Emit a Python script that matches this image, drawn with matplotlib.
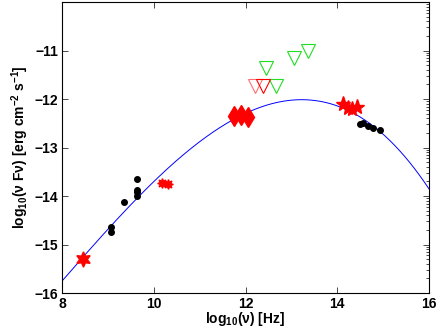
import numpy as np
import matplotlib
matplotlib.use('Agg')
import matplotlib.pyplot as plt
from matplotlib.ticker import FixedLocator

plt.rcParams['font.family'] = 'Liberation Sans'
plt.rcParams['font.weight'] = 'bold'
plt.rcParams['mathtext.fontset'] = 'custom'
plt.rcParams['mathtext.rm'] = 'Liberation Sans:bold'
plt.rcParams['mathtext.it'] = 'Liberation Sans:bold'
plt.rcParams['mathtext.bf'] = 'Liberation Sans:bold'
plt.rcParams['mathtext.default'] = 'bf'

# radio (black dots)
radio_x = [9.07, 9.07, 9.36, 9.63, 9.63, 9.63, 9.63]
radio_y = [-14.64, -14.74, -14.13, -13.65, -13.88, -13.92, -14.0]
# low frequency star
lowstar_x = [8.45]
lowstar_y = [-15.3]
# mm points
mm_x = [10.19, 10.31]
mm_y = [-13.74, -13.75]
# IR diamonds
ir_x = [11.75, 11.9, 12.05]
ir_y = [-12.36, -12.32, -12.37]
# optical/UV stars
opt_x = [14.13, 14.24, 14.33, 14.44]
opt_y = [-12.11, -12.19, -12.21, -12.17]
# X-ray black dots
xr_x = [14.49, 14.56, 14.66, 14.78, 14.93]
xr_y = [-12.52, -12.50, -12.56, -12.60, -12.63]
# upper limits
ul_green_x = [13.37, 13.05, 12.44, 12.66]
ul_green_y = [-11.01, -11.16, -11.37, -11.73]
ul_red_x = [12.2, 12.39]
ul_red_y = [-11.73, -11.73]

# model curve
curve_x = [8.0, 9.05, 9.81, 10.13, 10.53, 10.86, 11.59, 12.31, 12.53, 13.19,
           13.77, 14.27, 14.71, 15.0, 15.36, 15.73, 15.98]
curve_y = [-15.76, -14.62, -13.86, -13.6, -13.24, -13.04, -12.45, -12.18, -12.11, -12.0,
           -12.09, -12.28, -12.49, -12.69, -13.1, -13.48, -13.83]

fig = plt.figure(figsize=(4.38, 3.29), dpi=100)
ax = fig.add_axes([0.1416, 0.1094, 0.8379, 0.8845])

# cubic fit through the read curve points
coef = np.polyfit(curve_x, curve_y, 3)
xx = np.linspace(8, 16, 300)
ax.plot(xx, np.polyval(coef, xx), color='blue', lw=0.7)

ax.plot(radio_x, radio_y, 'o', color='k', ms=4)
ax.plot(xr_x, xr_y, 'o', color='k', ms=4)
ax.plot(lowstar_x, lowstar_y, marker=(6, 1, 0), ls='none', color='red', ms=11)
ax.plot(mm_x, mm_y, marker=(8, 1, 0), ls='none', color='red', ms=7)
ax.plot(ir_x, ir_y, 'd', color='red', ms=10)
ax.plot(opt_x, opt_y, '*', color='red', ms=11)
ax.plot(ul_green_x, ul_green_y, 'v', mfc='none', mec='#22dd22', ms=10, mew=0.8)
ax.plot(ul_red_x[:1], ul_red_y[:1], 'v', mfc='none', mec='#ff7070', ms=10, mew=0.8)
ax.plot(ul_red_x[1:], ul_red_y[1:], 'v', mfc='none', mec='red', ms=10, mew=0.8)

ax.set_xlim(8, 16)
ax.set_ylim(-16, -10)
ax.set_xticks([8, 10, 12, 14, 16])
ax.set_xticklabels(['8', '10', '12', '14', '16'], fontweight='bold')
ax.set_yticks([-16, -15, -14, -13, -12, -11])
ax.set_yticklabels(['\u221216', '\u221215', '\u221214', '\u221213', '\u221212', '\u221211'],
                   fontweight='bold')
ax.tick_params(direction='in', top=True, right=True, labelsize=10, length=4, width=0.5, pad=3)
minor = [d + np.log10(k) for d in range(-16, -10) for k in range(2, 10)]
ax.yaxis.set_minor_locator(FixedLocator(minor))
ax.tick_params(which='minor', direction='in', left=False, right=True, length=2, width=0.5)
for s in ax.spines.values():
    s.set_linewidth(0.8)

ax.set_xlabel('log$_{10}$(\u03bd) [Hz]', fontsize=10, fontweight='bold', labelpad=-1)
ax.set_ylabel('log$_{10}$(\u03bd F\u03bd) [erg cm$^{-2}$ s$^{-1}$]', fontsize=10,
              fontweight='bold', labelpad=2)

fig.savefig('out.png', dpi=100)
